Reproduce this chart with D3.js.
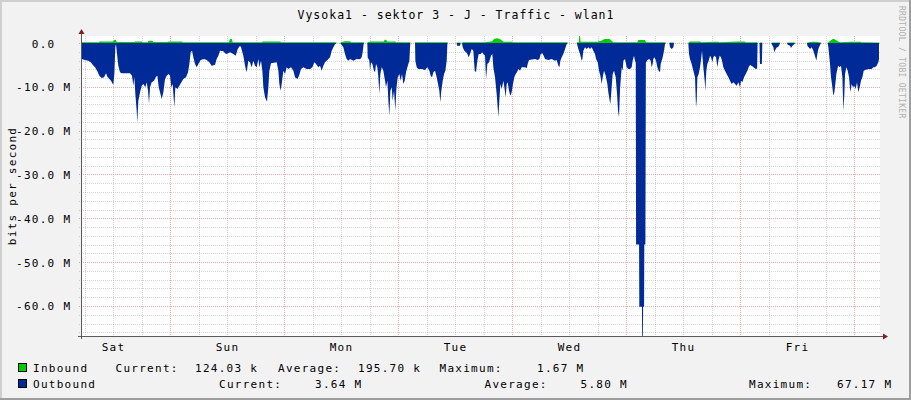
<!DOCTYPE html>
<html>
<head>
<meta charset="utf-8">
<script src="https://cdn.jsdelivr.net/npm/d3@7"></script>
<style>
body { margin: 0; background: #f2f2f2; }
svg text { font-family: "DejaVu Sans Mono", monospace; font-size: 11px; letter-spacing: 1.28px; fill: #000; }
</style>
</head>
<body>
<script>
// values; hours since Saturday 00:00, values in Mbit/s
const outbound = [
  [5.26,3.65],[5.40,3.65],[6.11,3.88],[6.81,4.03],[7.30,4.41],[7.72,4.94],[8.21,5.55],[8.70,6.46],[9.12,7.45],[9.61,7.99],
  [10.11,7.83],[10.53,6.92],[10.81,7.68],[11.23,8.21],[11.58,8.59],[11.86,9.2],[12.07,9.51],[12.28,7.07],[12.49,0.99],[12.63,0.23],
  [12.84,2.51],[13.12,5.17],[13.47,6.69],[13.83,6.92],[15.58,6.92],[16.00,7.45],[16.28,9.73],[16.49,7.83],[16.70,11.64],[16.98,15.44],
  [17.12,18.1],[17.33,13.16],[17.69,11.26],[18.04,9.73],[18.39,9.35],[18.81,10.11],[19.09,8.97],[19.37,10.88],[19.58,13.92],[19.79,10.11],
  [20.14,8.97],[20.63,8.59],[21.05,7.68],[21.34,7.45],[21.62,10.11],[21.90,11.26],[22.25,12.78],[22.60,11.26],[22.95,8.21],[23.30,7.45],
  [23.72,7.07],[24.00,7.45],[24.28,10.11],[24.56,9.35],[24.91,14.68],[25.12,10.11],[25.55,10.49],[25.97,9.73],[26.39,8.97],[26.81,8.21],
  [27.37,7.83],[27.79,6.69],[28.07,4.79],[28.35,2.13],[28.63,1.75],[28.91,3.27],[29.26,4.79],[29.62,5.55],[29.97,4.79],[30.46,3.88],
  [31.16,3.65],[31.72,3.88],[32.28,4.41],[32.77,5.17],[33.48,4.94],
  [33.82,3.65],[34.18,2.89],[34.53,1.75],[35.23,1.90],[35.58,2.36],[35.93,2.51],[36.63,2.13],[37.33,2.51],[37.83,2.89],[38.25,1.37],
  [38.74,0.61],[38.95,0.99],[39.44,2.89],[39.79,5.17],[40.14,6.69],[40.49,4.03],[40.84,4.41],[41.19,5.55],[41.54,4.03],[41.90,5.17],
  [42.25,5.55],[42.60,3.65],[42.81,5.55],[43.16,4.03],[43.44,6.31],[43.65,10.11],[44.00,12.4],[44.42,13.38],[44.70,10.11],[44.91,6.31],
  [45.26,4.64],[46.46,4.41],[46.81,6.31],[47.02,9.35],[47.30,10.88],[47.51,9.35],[47.86,6.31],[48.21,7.07],[48.56,5.55],[48.91,5.93],
  [49.47,5.55],[49.97,6.31],[50.32,7.83],[50.81,8.21],[51.16,7.45],[51.58,5.93],[52.07,5.55],[52.77,5.93],[53.48,5.93],[53.97,5.55],
  [54.39,4.41],[54.74,4.79],[55.23,5.55],[55.58,5.17],[55.93,6.31],[56.28,5.17],[56.63,4.41],[56.98,4.03],[57.34,3.65],[57.69,3.27],
  [58.04,1.75],[58.39,0.99],[58.74,0.23],[59.09,0],[59.79,0],[60.00,0.23],[60.49,0.99],[60.84,2.51],[61.19,3.65],[61.55,4.03],[61.90,3.65],
  [62.60,4.03],[63.30,3.65],[64.00,3.73],[64.35,3.27],[64.56,2.13],[64.77,0.23],[64.84,0],[65.54,0],[65.61,3.27],[65.97,4.03],
  [66.11,6.31],[66.32,4.41],[66.60,4.79],[66.95,6.31],[67.16,6.69],[67.37,4.79],[67.65,5.55],[67.86,7.83],[68.07,11.64],[68.28,7.07],
  [68.56,5.55],[68.91,6.31],[69.26,8.59],[69.47,10.11],[69.76,8.59],[69.97,13.16],[70.18,16.58],[70.39,10.88],[70.67,10.11],[70.88,13.16],
  [71.16,10.88],[71.44,15.44],[71.65,10.49],[71.93,7.83],[72.28,7.07],[72.56,8.59],[72.84,7.07],[73.12,9.35],[73.40,8.59],[73.69,6.69],
  [73.97,5.55],[74.18,4.79],[74.39,4.03],[74.53,0.99],[74.60,0],[75.58,0],[75.65,4.03],[75.93,5.55],[76.28,5.93],[76.98,5.93],
  [77.69,6.16],[78.18,5.55],[78.60,6.31],[78.88,7.45],[79.16,7.83],[79.44,6.69],[79.79,6.31],[80.14,7.83],[80.42,9.35],[80.70,10.88],
  [80.91,13.54],[81.12,10.88],[81.41,8.59],[81.69,7.07],[81.97,6.31],[82.25,4.03],[82.39,0.23],[82.46,0],[84.35,0],[84.42,0.61],
  [85.05,0.61],[85.19,0],[85.48,0],[85.62,0.99],[85.97,1.75],[86.32,2.13],[86.60,2.51],[86.88,3.27],[87.16,2.51],[87.51,1.37],
  [87.86,1.75],[88.14,6.31],[88.42,6.69],[88.70,4.03],[88.98,2.51],[89.41,2.51],[89.69,2.13],[89.97,2.51],[90.32,2.89],
  [90.53,8.21],[90.81,4.79],[91.16,4.41],[91.58,2.89],[91.86,2.51],[92.07,5.55],[92.42,7.83],[92.77,11.64],[92.98,14.68],[93.12,16.96],
  [93.33,13.16],[93.54,9.35],[93.83,10.49],[94.18,8.59],[94.39,10.11],[94.67,12.4],[94.88,9.35],[95.09,8.97],[95.37,10.88],[95.65,12.02],
  [95.93,11.26],[96.21,9.35],[96.49,7.83],[96.77,7.07],[97.05,6.69],[97.33,5.93],[97.68,6.31],[98.04,5.55],[98.74,5.55],[99.09,5.78],
  [99.30,4.79],[99.58,3.88],[100.84,3.65],[101.40,3.88],[101.76,3.65],[102.04,2.51],[102.39,2.36],[102.67,2.89],[102.95,3.65],[103.65,3.88],
  [104.35,3.65],[105.05,4.03],[105.40,3.88],[105.76,5.17],[105.97,5.55],[106.18,4.03],[106.46,3.27],[106.81,2.51],[107.16,1.37],[107.51,0.23],
  [107.72,0],[109.62,0],[109.69,0.23],[109.97,1.37],[110.32,2.51],[110.67,4.03],[110.81,3.65],[111.02,1.75],[111.37,0.99],[111.72,1.37],
  [112.07,0.99],[112.42,1.37],[112.77,0.99],[113.12,1.75],[113.48,2.51],[113.69,3.65],[114.04,4.41],[114.32,6.31],[114.60,7.45],[114.88,9.35],
  [115.09,7.83],[115.37,6.31],[115.72,7.45],[116.07,9.35],[116.28,11.26],[116.56,13.16],[116.70,13.92],[116.98,10.11],[117.19,7.07],[117.48,6.31],
  [117.83,7.83],[118.11,11.64],[118.32,15.44],[118.53,16.96],[118.74,10.5],
  [119.09,5.55],[119.30,6.31],[119.44,4.03],[119.79,3.65],[120.14,5.55],[120.49,5.93],[120.84,5.93],[121.19,5.55],[121.40,4.03],[121.68,2.89],[121.90,4.03],
  [122.05,4.5],[122.12,46],[122.75,46],[122.80,60.2],[123.35,60.2],[123.40,67.17],[123.55,67.17],[123.60,60.2],[123.80,60.2],[123.85,46],[124.08,46],[124.18,4.5],
  [124.49,3.88],[124.91,3.65],[125.19,4.03],[125.40,5.55],[125.61,4.79],[125.75,3.65],[125.97,3.27],[126.32,4.03],[126.60,5.55],[126.88,6.31],
  [127.16,6.69],[127.30,4.79],[127.51,4.03],[127.72,3.27],[128.00,1.75],[128.21,0.23],[128.35,0],[129.12,0],[129.26,0.99],[129.62,1.37],
  [129.97,0.99],[130.11,0],[133.12,0],[133.26,2.51],[133.47,3.65],[133.82,4.79],[134.18,6.31],[134.53,7.83],[134.74,14.68],[134.88,13.16],
  [135.02,7.83],[135.30,7.07],[135.58,5.55],[135.86,3.27],[136.00,1.75],[136.28,5.55],[136.56,8.59],[136.70,10.88],[136.91,6.31],[137.12,4.79],
  [137.40,4.03],[137.69,2.89],[137.90,3.27],[138.18,4.41],[138.39,3.27],[138.67,2.89],[138.95,3.27],[139.23,5.55],[139.44,4.03],[139.72,2.89],
  [140.00,3.27],[140.28,4.41],[140.49,5.55],[140.84,6.31],[141.19,7.07],[141.55,7.83],[141.90,8.59],[142.25,9.35],[142.60,8.97],[142.95,9.35],
  [143.30,9.73],[143.65,8.97],[144.00,10.11],[144.21,8.59],[144.49,8.97],[144.84,7.83],[145.20,7.07],[145.55,6.31],[145.83,5.5],[146.11,5.0],
  [146.60,5.3],[147.20,5.9],[147.60,5.9],[147.70,0],[148.10,0],[148.20,4.8],[148.60,4.8],[148.70,0],
  [150.60,0],[150.67,0.23],[151.02,0.99],[151.23,2.13],[151.51,1.37],[151.79,0.99],[152.07,0.84],[152.35,0.23],[152.49,0],[153.90,0],
  [154.04,0.38],[154.53,0.61],[154.74,1.14],[155.02,0.61],[155.44,0.23],[155.65,0],[158.11,0],[158.18,0.61],[158.74,1.37],[159.09,0.99],
  [159.44,1.75],[159.65,2.51],[159.86,3.27],[160.07,4.03],[160.28,2.51],[160.49,1.37],[160.77,0.61],[161.05,0],[162.46,0],[162.60,0.99],
  [162.74,2.51],[162.95,4.79],[163.16,7.83],[163.44,10.11],[163.65,12.02],[163.86,11.26],[164.07,9.35],[164.28,7.07],[164.49,5.93],[164.70,5.17],
  [164.98,5.55],[165.26,5.17],[165.55,7.83],[165.76,15.44],[165.97,11.64],[166.11,7.07],[166.39,5.55],[166.67,6.31],[166.95,7.83],[167.23,11.26],
  [167.51,9.35],[167.79,10.11],[168.07,9.73],[168.35,10.49],[168.63,8.97],[168.91,11.26],[169.19,10.11],[169.47,8.59],[169.76,7.83],[170.04,6.31],
  [170.32,6.16],[171.02,5.93],[171.72,5.93],[172.07,5.55],[172.42,5.55],[172.77,5.17],[173.12,4.41],[173.26,3.64]
];

const inbound = [
  [5.26,0.15],[9.0,0.15],[9.2,0.35],[12.0,0.35],[12.3,0.75],[12.6,0.7],[12.8,0.25],[16.5,0.25],[16.7,0.35],[18.0,0.35],
  [18.2,0.2],[19.3,0.2],[19.5,0.5],[20.3,0.5],[20.5,0.25],[23.5,0.25],[23.7,0.35],[26.5,0.35],[26.7,0.2],[36.4,0.2],
  [36.6,0.9],[37.0,0.9],[37.2,0.2],[43.3,0.2],[43.5,0.35],[47.2,0.35],[47.4,0.15],[59.0,0.15],[59.1,0],[59.8,0],
  [60.0,0.15],[60.8,0.4],[61.9,0.4],[62.1,0.15],[64.8,0.15],[64.84,0],[65.54,0],[65.6,0.2],[66.1,0.35],[69.0,0.35],
  [69.2,0.75],[69.5,0.75],[69.7,0.35],[71.4,0.35],[71.6,0.15],[74.6,0.15],[74.65,0],[75.55,0],[75.6,0.2],[82.4,0.2],
  [82.46,0],[84.35,0],[84.4,0.1],[85.1,0.1],[85.19,0],[85.5,0],[85.6,0.15],[90.3,0.2],[91.8,0.4],[92.3,1.0],
  [93.0,1.1],[93.6,0.8],[94.1,0.4],[94.3,0.3],[96.0,0.3],[96.2,0.2],[107.7,0.2],[107.72,0],[109.62,0],[109.7,0.2],
  [110.05,0.2],[110.15,1.67],[110.3,1.67],[110.45,0.3],[114.0,0.3],[114.9,0.6],[115.5,0.9],[116.5,0.9],[117.1,0.4],[117.3,0.2],
  [122.4,0.2],[122.6,0.7],[124.0,0.7],[124.2,0.15],[128.3,0.15],[128.35,0],[129.12,0],[129.2,0.1],[130.0,0.1],[130.11,0],
  [133.12,0],[133.2,0.2],[133.5,0.35],[135.6,0.35],[135.8,0.2],[138.5,0.3],[139.4,0.3],[139.6,0.2],[143.4,0.35],[145.0,0.35],
  [145.2,0.2],[147.65,0.2],[147.7,0],[148.1,0],[148.2,0.1],[148.6,0.1],[148.7,0],[150.6,0],[150.7,0.1],[152.4,0.1],
  [152.49,0],[153.9,0],[154.0,0.1],[155.6,0.1],[155.65,0],[158.11,0],[158.2,0.1],[159.2,0.3],[160.0,0.3],[161.0,0.1],
  [161.05,0],[162.46,0],[162.6,0.2],[163.0,0.5],[163.6,1.0],[164.0,0.8],[164.6,0.4],[165.0,0.2],[167.2,0.3],[169.3,0.3],
  [169.5,0.15],[173.26,0.12]
];

const days = ["Sat", "Sun", "Mon", "Tue", "Wed", "Thu", "Fri"];
const dayNoons = [12, 36, 60, 84, 108, 132, 156];
const yTicks = [0, -10, -20, -30, -40, -50, -60];
const inboundStats = ["124.03 k", "195.70 k", "1.67 M"];
const outboundStats = ["3.64 M", "5.80 M", "67.17 M"];

const W = 911, H = 400;
const x0 = 81, x1 = 880, y0 = 36, y1 = 336;

const x = d3.scaleLinear().domain([5.26, 173.26]).range([81, 879]);
const y = d3.scaleLinear().domain([-66.85, 1.6]).range([y1, y0]);

const svg = d3.select("body").append("svg")
    .attr("width", W)
    .attr("height", H);

// background and 3d frame
svg.append("rect").attr("width", W).attr("height", H).attr("fill", "#f2f2f2");
svg.append("path").attr("d", `M0,0H${W}V2H2V${H}H0Z`).attr("fill", "#cfcfcf");
svg.append("path").attr("d", `M${W},${H}H0V${H - 2}H${W - 2}V0H${W}Z`).attr("fill", "#9e9e9e");

// canvas
svg.append("rect")
    .attr("x", x0).attr("y", y0)
    .attr("width", x1 - x0).attr("height", y1 - y0)
    .attr("fill", "#fff");

const grid = svg.append("g");
const minorCol = "rgba(143,143,143,0.38)";
const majorCol = "rgba(222,79,79,0.48)";

// vertical grid, every 6 hours, red at midnight
d3.range(6, 174, 6).filter(h => x(h) > x0 + 1 && x(h) < x1).forEach(h => {
    const px = Math.round(x(h)) + 0.5;
    grid.append("line")
        .attr("x1", px).attr("x2", px).attr("y1", y0).attr("y2", y1 + 2)
        .attr("stroke", h % 24 === 0 ? majorCol : minorCol)
        .attr("stroke-dasharray", "1,1");
});

// horizontal grid, every 2 M, red every 10 M
d3.range(0, -67, -2).forEach(v => {
    const py = Math.round(y(v)) + 0.5;
    grid.append("line")
        .attr("x1", x0 - 2).attr("x2", x1).attr("y1", py).attr("y2", py)
        .attr("stroke", v % 10 === 0 ? majorCol : minorCol)
        .attr("stroke-dasharray", "1,1");
});

svg.append("clipPath").attr("id", "plot")
    .append("rect").attr("x", x0).attr("y", y0).attr("width", x1 - x0).attr("height", y1 - y0);

const plot = svg.append("g").attr("clip-path", "url(#plot)");

const inArea = d3.area().x(d => x(d[0])).y0(y(0)).y1(d => y(d[1]));
const outArea = d3.area().x(d => x(d[0])).y0(y(0)).y1(d => y(-d[1]));

plot.append("path").datum(inbound).attr("d", inArea).attr("fill", "#00cc00");
plot.append("path").datum(outbound).attr("d", outArea).attr("fill", "#002a97");

// axes lines and arrows
svg.append("line")
    .attr("x1", x0 - 3).attr("x2", x1 + 4).attr("y1", y1 + 0.5).attr("y2", y1 + 0.5)
    .attr("stroke", "#5a5a5a");
svg.append("line")
    .attr("x1", x0 + 0.5).attr("x2", x0 + 0.5).attr("y1", y1 + 3).attr("y2", y0 - 3)
    .attr("stroke", "#5a5a5a");
svg.append("path")
    .attr("d", `M${x1 + 3},${y1 - 2.5}L${x1 + 8},${y1 + 0.5}L${x1 + 3},${y1 + 3.5}Z`)
    .attr("fill", "#801f1f");
svg.append("path")
    .attr("d", `M${x0 - 2.5},${y0 - 2}L${x0 + 0.5},${y0 - 7}L${x0 + 3.5},${y0 - 2}Z`)
    .attr("fill", "#801f1f");

// day labels
const xAxis = svg.append("g")
    .attr("transform", `translate(0,${y1})`)
    .call(d3.axisBottom(x).tickValues(dayNoons).tickFormat((d, i) => days[i]).tickSize(0));
xAxis.select(".domain").remove();
xAxis.selectAll("text").attr("dy", null).attr("y", 15);

// value labels
const yAxis = svg.append("g")
    .attr("transform", "translate(16,0)")
    .call(d3.axisLeft(y).tickValues(yTicks).tickSize(0)
        .tickFormat(d => d === 0 ? "0.0" : d.toFixed(1) + " M"));
yAxis.select(".domain").remove();
yAxis.selectAll("text")
    .attr("text-anchor", "start")
    .attr("dy", null)
    .attr("x", d => d === 0 ? 15.8 : 0)
    .attr("y", 4);

// title
svg.append("text")
    .attr("x", 456).attr("y", 19)
    .attr("text-anchor", "middle")
    .style("font-size", "11.5px")
    .style("letter-spacing", "1.0px")
    .text("Vysoka1 - sektor 3 - J - Traffic - wlan1");

// vertical unit label
svg.append("text")
    .attr("transform", `translate(15.5,${(y0 + y1) / 2}) rotate(-90)`)
    .attr("text-anchor", "middle")
    .text("bits per second");

// watermark
svg.append("text")
    .attr("transform", "translate(899,6) rotate(90)")
    .style("font-size", "8px")
    .style("letter-spacing", "0.3px")
    .style("fill", "#b0b0b0")
    .text("RRDTOOL / TOBI OETIKER");

// legend
const legend = svg.append("g");
function legendRow(yb, color, name, stats, cols) {
    legend.append("rect")
        .attr("x", 18.5).attr("y", yb - 8.5).attr("width", 8).attr("height", 8)
        .attr("fill", color).attr("stroke", "#000");
    legend.append("text").attr("x", 33).attr("y", yb).text(name);
    const labels = ["Current:", "Average:", "Maximum:"];
    labels.forEach((l, i) => {
        legend.append("text").attr("x", cols[i * 2]).attr("y", yb).text(l);
        legend.append("text").attr("x", cols[i * 2 + 1]).attr("y", yb).text(stats[i]);
    });
}
legendRow(372, "#00cc00", "Inbound", inboundStats, [115.5, 195, 278, 358, 439.5, 537]);
legendRow(388, "#002a97", "Outbound", outboundStats, [219, 315, 484.5, 580.5, 749, 837]);
</script>
</body>
</html>
